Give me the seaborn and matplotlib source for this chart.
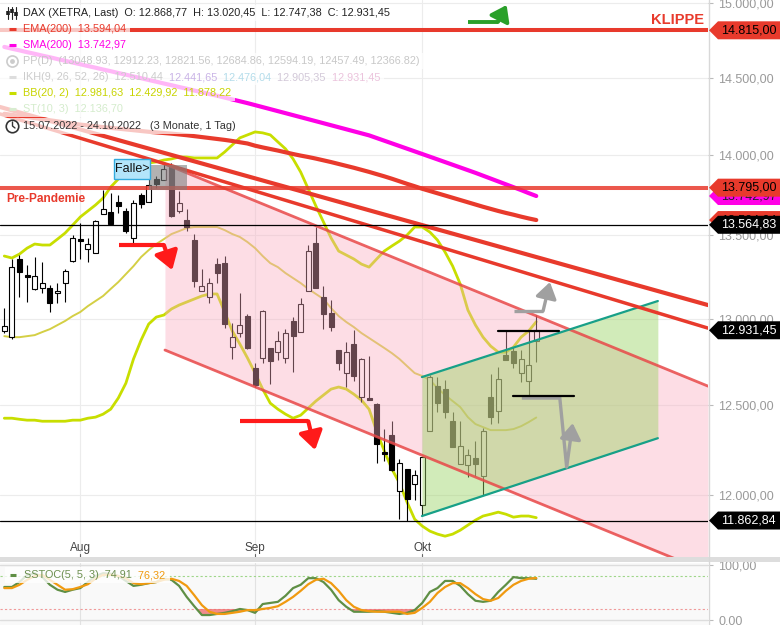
import numpy as np
import pandas as pd
import matplotlib
matplotlib.use("Agg")
import matplotlib.pyplot as plt
import matplotlib.patches as mpatches
from matplotlib.lines import Line2D
from matplotlib.ticker import FuncFormatter, NullLocator
import seaborn as sns

# DAX (XETRA) daily, 18.07.2022 - 24.10.2022
dates = pd.bdate_range("2022-07-18", "2022-10-24")
period_label = "15.07.2022 - 24.10.2022   (3 Monate, 1 Tag)"

opens = [12927, 12891, 13356, 13259, 13176, 13182, 13182, 13152, 13211, 13344,
         13477, 13416, 13392, 13632, 13644, 13706, 13650, 13484, 13749, 13706,
         13849, 13843, 13938, 13650, 13594, 13471, 13164, 13128, 13325, 13331,
         12833, 12915, 13015, 12712, 12770, 12828, 12804, 12770, 12986, 12921,
         13164, 13453, 13128, 13033, 12816, 12683, 12851, 12545, 12540, 12505,
         12236, 12331, 12022, 12143, 12061, 11946, 12353, 12608, 12591, 12409,
         12171, 12165, 12204, 12105, 12545, 12466, 12787, 12810, 12683, 12637,
         12868.77]
highs = [13063, 13356, 13380, 13319, 13368, 13338, 13199, 13211, 13295, 13502,
         13575, 13484, 13594, 13780, 13762, 13749, 13669, 13718, 13762, 13862,
         13868, 13950, 13950, 13774, 13663, 13508, 13295, 13241, 13362, 13374,
         12974, 13152, 13027, 12741, 13051, 12828, 12927, 12939, 13009, 13122,
         13441, 13551, 13193, 13110, 12816, 12862, 12933, 12770, 12781, 12511,
         12365, 12409, 12198, 12143, 12138, 12209, 12671, 12660, 12643, 12460,
         12409, 12254, 12298, 12370, 12677, 12717, 12927, 12834, 12816, 12927,
         13020.45]
lows = [12915, 12880, 13128, 13098, 13170, 13152, 13039, 13092, 13098, 13338,
        13356, 13338, 13392, 13632, 13563, 13638, 13514, 13453, 13669, 13706,
        13793, 13843, 13613, 13638, 13526, 13187, 13164, 13092, 13211, 12944,
        12764, 12891, 12822, 12603, 12741, 12620, 12758, 12741, 12688, 12921,
        13164, 13182, 12939, 12927, 12700, 12603, 12637, 12517, 12528, 12176,
        12187, 12132, 11870, 11862.84, 11973, 11892, 12353, 12460, 12426, 12265,
        12171, 12099, 12105, 12000, 12392, 12398, 12758, 12712, 12631, 12551,
        12747.38]
closes = [12956, 13307, 13277, 13247, 13253, 13211, 13092, 13164, 13283, 13484,
          13465, 13447, 13588, 13663, 13569, 13681, 13526, 13700, 13694, 13812,
          13818, 13912, 13619, 13700, 13551, 13223, 13193, 13211, 13271, 12968,
          12891, 12962, 12828, 12614, 13045, 12752, 12868, 12915, 12897, 13086,
          13404, 13182, 13027, 12950, 12741, 12804, 12665, 12764, 12528, 12281,
          12227, 12138, 12176, 11978, 12110, 12209, 12660, 12511, 12460, 12265,
          12270, 12220, 12171, 12353, 12432, 12648, 12758, 12741, 12764, 12729,
          12931.45]

ema200 = [14265, 14258, 14251, 14244, 14237, 14230, 14223, 14216, 14209, 14202,
          14195, 14190, 14184, 14179, 14174, 14169, 14164, 14159, 14154, 14149,
          14145, 14141, 14137, 14132, 14127, 14121, 14115, 14109, 14103, 14097,
          14090, 14082, 14074, 14060, 14049, 14039, 14029, 14018, 14007, 13997,
          13988, 13978, 13967, 13956, 13944, 13932, 13920, 13907, 13894, 13880,
          13866, 13851, 13835, 13819, 13804, 13788, 13774, 13760, 13746, 13732,
          13718, 13704, 13690, 13676, 13663, 13650, 13638, 13627, 13615, 13604,
          13594.04]
sma200 = [14704, 14692, 14681, 14669, 14658, 14646, 14635, 14623, 14612, 14600,
          14589, 14577, 14566, 14554, 14543, 14531, 14520, 14508, 14497, 14485,
          14474, 14462, 14451, 14439, 14428, 14416, 14405, 14393, 14382, 14370,
          14358, 14346, 14334, 14321, 14308, 14295, 14282, 14269, 14256, 14243,
          14230, 14217, 14204, 14191, 14178, 14165, 14152, 14139, 14126, 14109,
          14092, 14075, 14058, 14041, 14024, 14007, 13990, 13973, 13956, 13939,
          13922, 13905, 13888, 13870, 13852, 13834, 13816, 13798, 13780, 13761,
          13742.97]
bb_upper = [13374, 13362, 13386, 13422, 13447, 13441, 13441, 13477, 13514, 13563,
            13613, 13650, 13687, 13730, 13799, 13849, 13887, 13925, 13938, 13950,
            13957, 13969, 13976, 13988, 13988, 13982, 13982, 13982, 13982, 14020,
            14065, 14110, 14129, 14148, 14142, 14129, 14084, 14040, 13976, 13893,
            13787, 13681, 13582, 13484, 13404, 13380, 13356, 13325, 13307, 13356,
            13404, 13435, 13465, 13502, 13551, 13551, 13520, 13471, 13398, 13313,
            13205, 13051, 12962, 12891, 12839, 12804, 12804, 12833, 12891, 12927,
            12981.63]
bb_mid = [12897, 12891, 12891, 12897, 12903, 12921, 12938, 12962, 12986, 13015,
          13039, 13074, 13104, 13134, 13176, 13217, 13265, 13313, 13368, 13410,
          13447, 13477, 13508, 13526, 13545, 13551, 13551, 13551, 13551, 13532,
          13508, 13490, 13459, 13422, 13374, 13331, 13307, 13271, 13241, 13211,
          13176, 13146, 13116, 13062, 13015, 12980, 12950, 12915, 12886, 12857,
          12828, 12798, 12764, 12723, 12683, 12666, 12643, 12597, 12557, 12523,
          12489, 12432, 12393, 12376, 12359, 12359, 12359, 12365, 12381, 12404,
          12429.92]
bb_lower = [12426, 12426, 12420, 12415, 12415, 12409, 12409, 12409, 12409, 12415,
            12415, 12426, 12432, 12449, 12477, 12540, 12625, 12764, 12874, 12968,
            13009, 13021, 13057, 13080, 13098, 13116, 13134, 13146, 13146, 13039,
            12927, 12851, 12770, 12683, 12591, 12511, 12477, 12449, 12426, 12443,
            12483, 12523, 12557, 12591, 12603, 12591, 12562, 12528, 12477, 12353,
            12243, 12143, 12066, 11962, 11870, 11833, 11806, 11790, 11779, 11790,
            11811, 11838, 11865, 11887, 11897, 11908, 11897, 11881, 11887, 11887,
            11878.22]
stoch_k = [60, 60, 69, 82, 85, 78, 64, 55, 51, 55,
           58, 69, 80, 85, 84, 80, 71, 62, 64, 67,
           69, 75, 73, 62, 42, 25, 9, 9, 11, 13,
           16, 20, 18, 13, 29, 31, 33, 44, 58, 64,
           76, 76, 69, 55, 36, 24, 15, 15, 15, 16,
           15, 13, 11, 13, 18, 31, 51, 58, 71, 71,
           62, 47, 35, 33, 35, 51, 64, 78, 76, 76,
           74.91]
stoch_d = [58, 58, 64, 73, 80, 82, 73, 64, 55, 56,
           60, 65, 75, 82, 82, 80, 76, 67, 65, 67,
           69, 73, 75, 71, 62, 45, 27, 15, 11, 11,
           13, 15, 18, 18, 20, 22, 25, 33, 42, 53,
           65, 73, 75, 67, 53, 36, 24, 18, 16, 15,
           15, 15, 15, 11, 13, 22, 33, 49, 60, 67,
           67, 58, 47, 38, 35, 40, 53, 64, 71, 75,
           76.32]

pp_values = ["13048.93", "12912.23", "12821.56", "12684.86", "12594.19", "12457.49", "12366.82"]
ikh_values = [12510.44, 12441.65, 12476.04, 12905.35, 12931.45]
st_value = 12136.70

klippe = 14815.00
pre_pandemie = 13795.00
resist_line = 13564.83
low_line = 11862.84

# drawn lines, given as (day index, price) end points
trend1_x, trend1_y = [-0.57, 92.6], [14309, 13080]
trend2_x, trend2_y = [-0.57, 92.6], [14264, 12944]
chan_x, chan_top, chan_bot = [21.14, 92.6], [13944, 12608], [12816, 11588]
green_x, green_top, green_bot = [54.96, 86.0], [12660, 13104], [11887, 12314]

price_ticks = [12000, 12500, 13000, 13500, 14000, 14500, 15000]
month_names = {8: "Aug", 9: "Sep", 10: "Okt"}

RED = "#e83a2c"
MAG = "#ff00e6"
BBC = "#c8de00"
W, H = 780, 625


def de(v, nd=2):
    s = f"{v:,.{nd}f}"
    return s.replace(",", "_").replace(".", ",").replace("_", ".")


sns.set_theme(style="white")
plt.rcParams["font.family"] = ["Liberation Sans", "DejaVu Sans"]

fig = plt.figure(figsize=(7.8, 6.25), dpi=100, facecolor="white")
ax = fig.add_axes([0, 1 - 558 / H, 708 / W, 558 / H])
axs = fig.add_axes([0, 0, 708 / W, 62 / H])

n = len(dates)
idx = np.arange(n)
o, hi, lo, c = map(np.array, (opens, highs, lows, closes))

ax.set_yscale("log")
ax.set_xlim(-0.566, 92.6)
ax.set_ylim(11663, 15020)
for s in ax.spines.values():
    s.set_visible(False)

month_idx = [i for i in range(1, n) if dates[i].month != dates[i - 1].month]

# grid
for p in price_ticks:
    ax.axhline(p, color="#ececec", lw=0.8, zorder=0)
for i in month_idx:
    ax.axvline(i, color="#ececec", lw=0.8, zorder=0)

# bollinger bands
sns.lineplot(x=idx, y=bb_upper, ax=ax, color=BBC, lw=2.0, zorder=2)
sns.lineplot(x=idx, y=bb_lower, ax=ax, color=BBC, lw=2.0, zorder=2)
sns.lineplot(x=idx, y=bb_mid, ax=ax, color="#d4cf45", lw=1.4, zorder=2)

# candles
body_lo = np.minimum(o, c)
body_hi = np.maximum(o, c)
ax.vlines(idx, lo, hi, color="black", lw=0.8, zorder=3)
ax.bar(idx, np.maximum(body_hi - body_lo, 3), bottom=body_lo, width=0.66,
       color=np.where(c >= o, "white", "black"), edgecolor="black", linewidth=0.8, zorder=3.1)

# moving averages
sns.lineplot(x=idx, y=ema200, ax=ax, color=RED, lw=3, zorder=2.5)
sns.lineplot(x=idx, y=sma200, ax=ax, color=MAG, lw=3, zorder=2.5)

# falling channel and rising channel
ax.fill_between(chan_x, chan_top, chan_bot, color="#faacc0", alpha=0.4, lw=0, zorder=4)
ax.fill_between(green_x, green_top, green_bot, color="#9bd364", alpha=0.45, lw=0, zorder=4.5)
ax.plot(chan_x, chan_top, color="#e84848", lw=2, alpha=0.85, zorder=5)
ax.plot(chan_x, chan_bot, color="#e84848", lw=2, alpha=0.85, zorder=5)
ax.plot(green_x, green_top, color="#17a088", lw=1.6, zorder=5)
ax.plot(green_x, green_bot, color="#17a088", lw=1.6, zorder=5)

ax.plot(trend1_x, trend1_y, color=RED, lw=3, zorder=6)
ax.plot(trend2_x, trend2_y, color=RED, lw=2.5, zorder=6)

ax.axhline(klippe, color=RED, lw=2.9, zorder=6)
ax.axhline(pre_pandemie, color=RED, lw=2.9, alpha=0.85, zorder=6)
ax.axhline(resist_line, color="black", lw=0.9, zorder=6)
ax.axhline(low_line, color="black", lw=0.9, zorder=6)

ax.text(92.07, 14885, "KLIPPE", color=RED, fontsize=10.5, fontweight="bold",
        ha="right", va="center", zorder=8)
ax.text(0.22, 13724, "Pre-Pandemie", color=RED, fontsize=8.6, fontweight="bold",
        ha="left", va="center", zorder=8)

# gray box + "Falle>" label
ax.add_patch(mpatches.Rectangle((19.04, 13780), 5.0, 13938 - 13780, color="#7f7f7f",
                                alpha=0.6, lw=0, zorder=7))
ax.add_patch(mpatches.Rectangle((14.43, 13849), 4.74, 13976 - 13849, fc="#b3e5fa",
                                ec="#33aadd", lw=1, zorder=8))
ax.text(16.8, 13912, "Falle>", fontsize=9, color="#111111", ha="center", va="center", zorder=9)


def arrow(px, py, tip, color, lw, hw=0.3, hl=0.45):
    ax.plot(px, py, color=color, lw=lw, solid_capstyle="butt", solid_joinstyle="miter", zorder=9)
    ax.annotate("", xy=tip, xytext=(px[-1], py[-1]), annotation_clip=False, zorder=9,
                arrowprops=dict(arrowstyle=f"-|>,head_width={hw},head_length={hl}",
                                color=color, lw=lw, shrinkA=0, shrinkB=0, mutation_scale=20))


arrow([15.1, 21.0], [13441, 13441], (22.1, 13289), "#ff1a1a", 3, 0.36, 0.55)
arrow([31.0, 40.0], [12409, 12409], (40.9, 12248), "#ff1a1a", 3, 0.36, 0.55)
arrow([67.07, 70.9], [13045, 13045], (71.8, 13217), "#a0a0a0", 2.4, 0.32, 0.48)
arrow([68.1, 73.1, 74.0], [12540, 12540, 12154], (74.8, 12398), "#a0a0a0", 2.4, 0.32, 0.48)
arrow([61.0, 64.96], [14871, 14871], (66.1, 14986), "#2aa02a", 2.8, 0.32, 0.45)

ax.plot([64.96, 73.0], [12927, 12927], color="black", lw=1.6, zorder=9)
ax.plot([66.9, 74.96], [12551, 12551], color="black", lw=1.6, zorder=9)

# x labels inside the price panel
xt = ax.get_xaxis_transform()
for i in month_idx:
    ax.text(i, 0.018, month_names[dates[i].month], transform=xt, fontsize=8.5,
            color="#444444", ha="center", va="center")
    ax.plot([i, i], [0.001, 0.008], transform=xt, color="#666666", lw=0.8)

# right axis
ax.set_xticks([])
ax.yaxis.tick_right()
ax.set_yticks(price_ticks)
ax.yaxis.set_minor_locator(NullLocator())
ax.yaxis.set_major_formatter(FuncFormatter(lambda v, p: de(v)))
ax.tick_params(axis="y", right=True, left=False, length=3.6, width=0.8, color="#bbbbbb",
               labelcolor="#9a9a9a", labelsize=9, pad=4)
ax.set_xlabel("")
ax.set_ylabel("")

# stochastic panel
axs.set_facecolor("#f9f9f9")
axs.set_xlim(-0.566, 92.6)
axs.set_ylim(-9.1, 103.6)
for s in axs.spines.values():
    s.set_visible(False)
for i in month_idx:
    axs.axvline(i, color="#e2e2e2", lw=0.8, zorder=0)
axs.axhline(100, color="#dddddd", lw=1, zorder=0)
axs.axhline(0, color="#dddddd", lw=1, zorder=0)
axs.axhline(80, color="#9fd68a", lw=0.8, ls=(0, (2, 2)), zorder=1)
axs.axhline(20, color="#f09a9a", lw=0.8, ls=(0, (2, 2)), zorder=1)
kk = np.array(stoch_k)
dd = np.array(stoch_d)
low_kd = np.minimum(kk, dd)
axs.fill_between(idx, low_kd, 20, where=low_kd < 20, interpolate=True, color="#f07070",
                 alpha=0.8, lw=0, zorder=1.5)
sns.lineplot(x=idx, y=stoch_k, ax=axs, color="#5f8f45", lw=1.6, zorder=2)
sns.lineplot(x=idx, y=stoch_d, ax=axs, color="#f09a10", lw=1.6, zorder=2.1)
axs.set_xticks([])
axs.yaxis.tick_right()
axs.set_yticks([0, 100])
axs.yaxis.set_major_formatter(FuncFormatter(lambda v, p: de(v)))
axs.tick_params(axis="y", right=True, left=False, length=3.6, width=0.8, color="#bbbbbb",
                labelcolor="#9a9a9a", labelsize=9, pad=4)
axs.set_xlabel("")
axs.set_ylabel("")

# separators / right axis line
fig.add_artist(mpatches.Rectangle((0, 1 - 562 / H), 1, 5 / H, transform=fig.transFigure,
                                  fc="#dddddd", ec="none", zorder=5))
fig.add_artist(Line2D([709 / W, 709 / W], [0, 1], transform=fig.transFigure,
                      color="#d8d8d8", lw=1, zorder=5))

# price tags on the right axis
tags = [(sma200[-1], MAG, "#222222"), (ema200[-1], RED, "black"), (pre_pandemie, RED, "black"),
        (klippe, RED, "black"), (resist_line, "black", "white"), (closes[-1], "black", "white"),
        (low_line, "black", "white")]
for k, (val, face, tcol) in enumerate(tags):
    yc = ax.transData.transform((0, val))[1]
    pts = [(709, yc), (718, yc + 9), (780, yc + 9), (780, yc - 9), (718, yc - 9)]
    fig.add_artist(mpatches.Polygon([(px / W, py / H) for px, py in pts], closed=True,
                                    transform=fig.transFigure, fc=face, ec="none", zorder=20 + 2 * k))
    fig.text(721 / W, yc / H, de(val), color=tcol, fontsize=9, ha="left", va="center",
             zorder=21 + 2 * k)

# legend rows top left
renderer = fig.canvas.get_renderer()


def legend_row(yc, pieces, size=7.8, x0=23):
    x = x0
    for txt, col in pieces:
        t = fig.text(x / W, 1 - yc / H, txt, color=col, fontsize=size, ha="left",
                     va="center", zorder=41)
        x += t.get_window_extent(renderer).width
    fig.add_artist(mpatches.Rectangle((0, 1 - (yc + 8) / H), (x + 4) / W, 16 / H,
                                      transform=fig.transFigure, fc="white", ec="none",
                                      alpha=0.72, zorder=40))


def fig_line(xs, ys, **kw):
    fig.add_artist(Line2D([v / W for v in xs], [1 - v / H for v in ys],
                          transform=fig.transFigure, zorder=42, **kw))


legend_row(13, [(f"DAX (XETRA, Last)  O: {de(opens[-1])}  H: {de(highs[-1])}  "
                 f"L: {de(lows[-1])}  C: {de(closes[-1])}", "#222222")])
legend_row(29, [(f"EMA(200)  {de(ema200[-1])}", RED)])
legend_row(45, [(f"SMA(200)  {de(sma200[-1])}", MAG)])
legend_row(61, [("PP(D)  (" + ", ".join(pp_values) + ")", "#c8c8c8")])
legend_row(77, [(f"IKH(9, 26, 52, 26)  {de(ikh_values[0])}", "#cccccc"),
                (f"  {de(ikh_values[1])}", "#c9b3e6"), (f"  {de(ikh_values[2])}", "#b3dcea"),
                (f"  {de(ikh_values[3])}", "#d2c8d8"), (f"  {de(ikh_values[4])}", "#ebc3dc")])
legend_row(93, [(f"BB(20, 2)  {de(bb_upper[-1])}  {de(bb_mid[-1])}  {de(bb_lower[-1])}", "#c8d400")])
legend_row(109, [(f"ST(10, 3)  {de(st_value)}", "#d4eccc")])
legend_row(126, [(period_label, "#333333")])

# icons
for xi, (b0, b1) in zip([8, 12, 16], [(11, 15), (9, 13), (12, 16)]):
    fig_line([xi, xi], [7, 19], color="#222222", lw=0.8)
    fig_line([xi, xi], [b0, b1], color="#222222", lw=2.6, solid_capstyle="butt")
for yc, col in [(29, RED), (45, MAG), (77, "#dddddd"), (93, BBC), (109, "#d8ecd0")]:
    fig_line([9, 16], [yc, yc], color=col, lw=2.2, solid_capstyle="butt")
fig_line([12], [61], marker="o", ms=8, mfc="none", mec="#cccccc", mew=1.2, ls="none")
fig_line([12], [61], marker="o", ms=3.5, mfc="#cccccc", mec="none", ls="none")
fig_line([12.5], [126], marker="o", ms=9, mfc="none", mec="#333333", mew=1.2, ls="none")
fig_line([12.5, 12.5, 15], [122, 126, 128], color="#333333", lw=1)

# stochastic legend
fig.add_artist(mpatches.Rectangle((5 / W, 1 - 583 / H), 165 / W, 16 / H, transform=fig.transFigure,
                                  fc="white", ec="none", alpha=0.8, zorder=40))
fig_line([10, 16], [575, 575], color="#5f8f45", lw=2.2, solid_capstyle="butt")
xs = 24
t = fig.text(xs / W, 1 - 575 / H, f"SSTOC(5, 5, 3)  {de(stoch_k[-1])}", color="#6b8e4e",
             fontsize=7.8, ha="left", va="center", zorder=41)
xs += t.get_window_extent(renderer).width
fig.text(xs / W, 1 - 575 / H, f"  {de(stoch_d[-1])}", color="#f09a10", fontsize=7.8,
         ha="left", va="center", zorder=41)

fig.savefig("out.png", dpi=100)
